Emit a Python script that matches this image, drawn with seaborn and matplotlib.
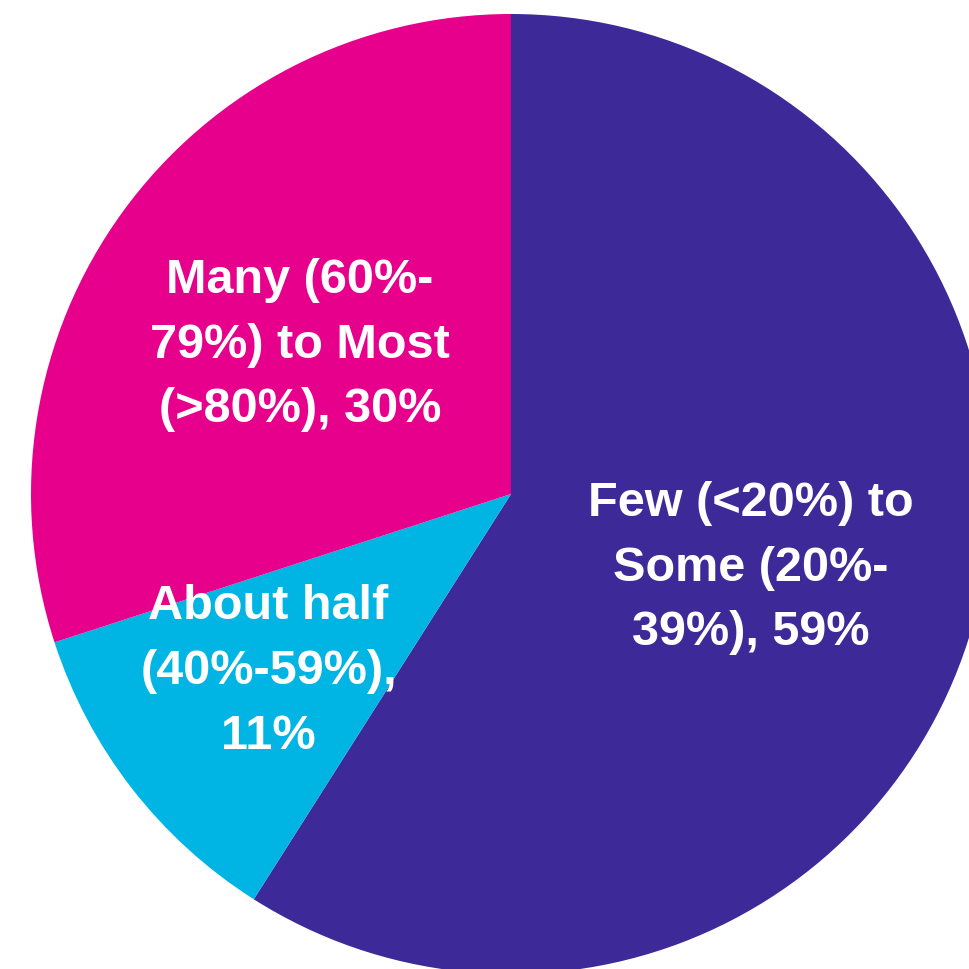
import matplotlib
matplotlib.use("Agg")
import matplotlib.pyplot as plt
from matplotlib import font_manager
import seaborn as sns

sns.set_style("white")


def find_face(name):
    for f in font_manager.fontManager.ttflist:
        if f.name == name and f.weight in ("bold", 700) and f.style == "normal":
            return f.fname
    return None


# Bold Arial-metric face for the labels
regular = find_face("Liberation Sans")
if regular:
    label_font = font_manager.FontProperties(fname=regular, size=35)
else:
    label_font = font_manager.FontProperties(family="DejaVu Sans", weight="bold", size=33)
line_gap = 1.56

# Share of respondents by category, drawn clockwise from 12 o'clock
categories = ["Few (<20%) to Some (20%-39%)", "About half (40%-59%)", "Many (60%-79%) to Most (>80%)"]
shares = [59, 11, 30]
colors = ["#3D2A98", "#00B4E4", "#E6008C"]
label_texts = ["Few (<20%) to\nSome (20%-\n39%), 59%",
               "About half\n(40%-59%),\n11%",
               "Many (60%-\n79%) to Most\n(>80%), 30%"]
# label anchor positions in units of the pie radius
label_xy = [(0.50, -0.155), (-0.505, -0.37), (-0.44, 0.31)]

W = H = 969
dpi = 100
cx, cy, r = 511, 494, 480  # pie centre and radius in pixels

fig = plt.figure(figsize=(W / dpi, H / dpi), dpi=dpi)
ax = fig.add_axes([0, 0, 1, 1])
ax.pie(shares, colors=colors, startangle=90, counterclock=False,
       radius=1.0, wedgeprops=dict(linewidth=0))
ax.set_xlim(-cx / r, (W - cx) / r)
ax.set_ylim(-(H - cy) / r, cy / r)
ax.set_aspect("auto")
ax.axis("off")

for txt, (x, y) in zip(label_texts, label_xy):
    ax.text(x, y, txt, ha="center", va="center", color="white",
            fontproperties=label_font, linespacing=line_gap,
            multialignment="center")

fig.savefig("out.png", dpi=dpi, facecolor="white")
